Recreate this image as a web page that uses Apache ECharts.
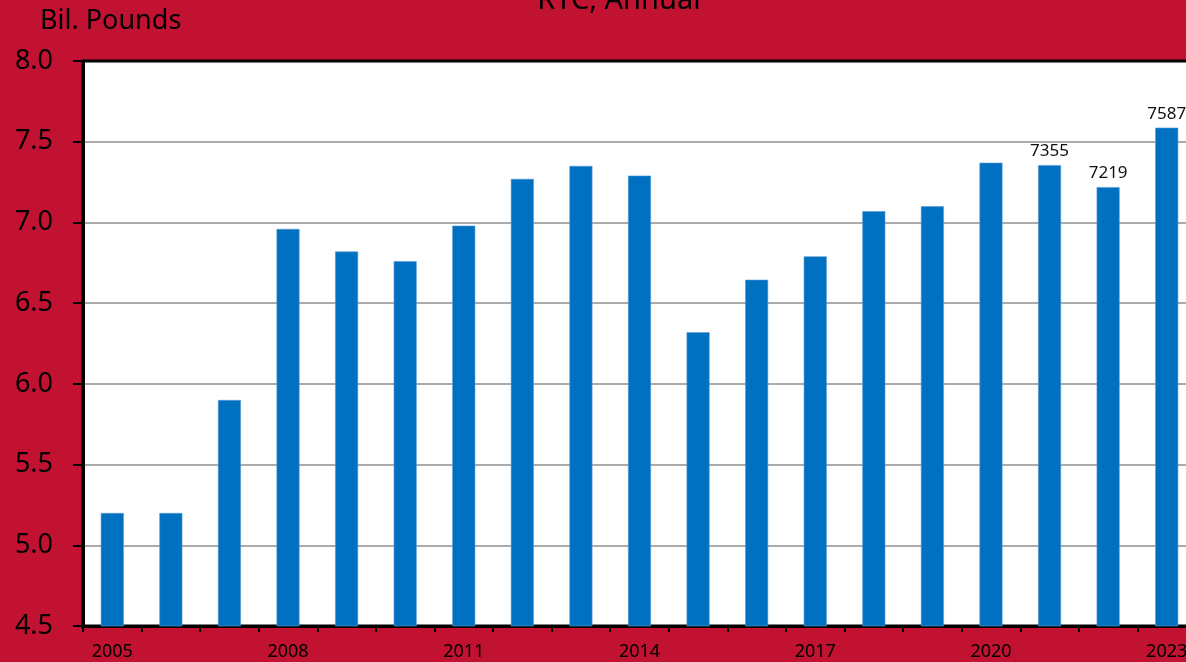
<!DOCTYPE html>
<html>
<head>
<meta charset="utf-8">
<script src="https://cdn.jsdelivr.net/npm/echarts@6/dist/echarts.min.js"></script>
<style>
  html, body { margin: 0; padding: 0; overflow: hidden; background: #C11232; }
  #chart { width: 1200px; height: 662px; }
</style>
</head>
<body>
<div id="chart"></div>
<script>
// RTC annual volume, billions of pounds
const years = ['2005','2006','2007','2008','2009','2010','2011','2012','2013','2014',
               '2015','2016','2017','2018','2019','2020','2021','2022','2023'];
const volume = [5.20, 5.20, 5.90, 6.96, 6.82, 6.76, 6.98, 7.27, 7.35, 7.29,
                6.32, 6.645, 6.79, 7.07, 7.10, 7.37, 7.355, 7.219, 7.587];
// years whose bars carry a value label (shown in million pounds)
const labelledYears = ['2021', '2022', '2023'];
const yTicks = { min: 4.5, max: 8.0, step: 0.5 };

const FONT = '"Noto Sans", "Open Sans", sans-serif';
const chart = echarts.init(document.getElementById('chart'), null, { renderer: 'canvas' });

// gridlines are grey, except the top one, which doubles as the plot frame
const nLines = Math.round((yTicks.max - yTicks.min) / yTicks.step) + 1;
const gridColors = Array.from({ length: nLines }, (_, i) => i === nLines - 1 ? '#000' : '#8f8f8f');

chart.setOption({
  backgroundColor: '#C11232',
  animation: false,
  graphic: [
    {
      type: 'text', left: 40, top: 8,
      style: { text: 'Bil. Pounds', font: '27px ' + FONT, fill: '#000' }
    },
    {
      type: 'text', x: 619, y: -14,
      style: { text: 'RTC, Annual', font: '29px ' + FONT, fill: '#000', align: 'center' }
    }
  ],
  grid: {
    left: 83, right: 4, top: 61, bottom: 36,
    show: true, backgroundColor: '#fff', borderColor: '#000', borderWidth: 3
  },
  xAxis: {
    type: 'category',
    data: years,
    boundaryGap: true,
    axisLine: { lineStyle: { color: '#000', width: 3 } },
    axisTick: { show: true, interval: 0, length: 6, lineStyle: { color: '#000', width: 2 } },
    axisLabel: { interval: 2, color: '#000', fontSize: 18, fontFamily: FONT, margin: 17 }
  },
  yAxis: {
    type: 'value',
    min: yTicks.min, max: yTicks.max, interval: yTicks.step,
    axisLine: { show: true, lineStyle: { color: '#000', width: 3 } },
    axisTick: { show: true, length: 10, lineStyle: { color: '#000', width: 2 } },
    axisLabel: {
      color: '#000', fontSize: 27, fontFamily: FONT, margin: 30,
      formatter: v => v.toFixed(1)
    },
    splitLine: { show: true, lineStyle: { color: gridColors, width: 1.5 } }
  },
  series: [{
    type: 'bar',
    data: volume.map((v, i) => ({
      value: v,
      label: {
        show: labelledYears.includes(years[i]),
        position: 'top', distance: 5,
        color: '#111', fontSize: 17, fontFamily: FONT,
        formatter: p => String(Math.round(p.value * 1000))
      }
    })),
    barWidth: 23,
    itemStyle: { color: '#0070C0', borderColor: '#5b9bd5', borderWidth: 0.6 }
  }]
});
</script>
</body>
</html>
